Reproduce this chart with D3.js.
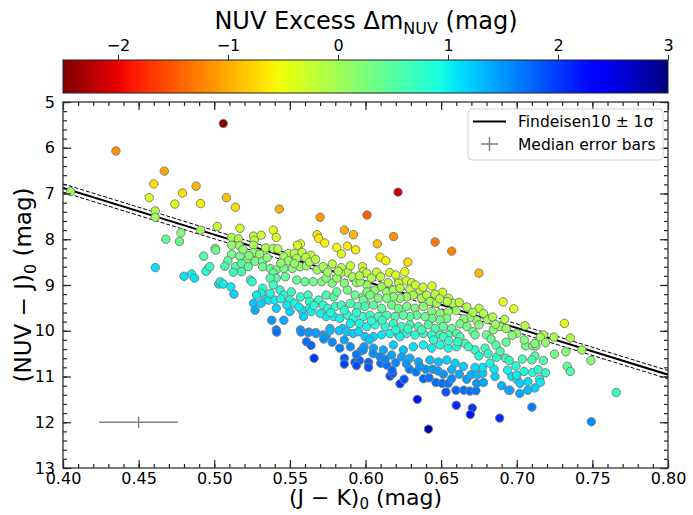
<!DOCTYPE html>
<html>
<head>
<meta charset="utf-8">
<script src="https://cdn.jsdelivr.net/npm/d3@7"></script>
<style>
body { margin: 0; background: #fff; }
text { font-family: "DejaVu Sans", sans-serif; fill: #000; }
</style>
</head>
<body>
<div id="chart"></div>
<script>
// (J-K)0, (NUV-J)0 pairs
var stars = [
  [0.435,6.07],[0.467,6.51],[0.460,6.79],[0.479,6.99],[0.488,6.84],[0.457,7.09],[0.474,7.23],[0.491,7.22],[0.405,6.96],
  [0.461,7.38],[0.461,7.52],[0.502,7.72],[0.491,7.80],[0.506,5.47],[0.508,7.09],[0.514,7.30],[0.543,7.34],[0.570,7.52],
  [0.601,7.47],[0.517,7.76],[0.539,7.80],[0.586,7.80],[0.6215,6.97],[0.478,7.86],[0.468,8.00],[0.477,8.05],[0.5005,8.20],
  [0.501,8.24],[0.493,8.37],[0.461,8.62],[0.496,8.64],[0.4945,8.70],[0.480,8.81],[0.485,8.76],[0.487,8.85],[0.503,8.98],
  [0.568,7.90],[0.592,7.90],[0.541,7.96],[0.526,7.93],[0.531,7.91],[0.5115,7.96],[0.516,7.99],[0.5265,8.02],[0.569,7.98],
  [0.573,8.08],[0.581,8.18],[0.588,8.15],[0.5935,8.23],[0.584,8.32],[0.557,8.10],[0.555,8.13],[0.5115,8.13],[0.5166,8.14],
  [0.526,8.13],[0.534,8.19],[0.539,8.20],[0.542,8.21],[0.549,8.31],[0.553,8.31],[0.558,8.29],[0.564,8.35],[0.526,8.29],
  [0.530,8.33],[0.5115,8.33],[0.517,8.37],[0.509,8.47],[0.522,8.45],[0.527,8.48],[0.532,8.48],[0.546,8.38],[0.549,8.47],
  [0.5545,8.42],[0.5605,8.40],[0.5516,8.64],[0.5567,8.60],[0.561,8.58],[0.568,8.67],[0.572,8.60],[0.578,8.54],[0.584,8.62],
  [0.588,8.73],[0.5836,8.74],[0.5915,8.82],[0.598,8.60],[0.5985,8.71],[0.594,8.95],[0.601,9.00],[0.507,8.59],[0.514,8.60],
  [0.518,8.53],[0.5225,8.60],[0.5126,8.72],[0.518,8.71],[0.532,8.60],[0.537,8.64],[0.541,8.67],[0.546,8.64],[0.539,8.74],
  [0.541,8.85],[0.537,8.85],[0.547,8.82],[0.5545,8.89],[0.560,8.93],[0.5655,8.93],[0.571,8.93],[0.574,8.85],[0.578,8.96],
  [0.581,8.85],[0.586,8.96],[0.497,8.60],[0.504,8.93],[0.506,8.98],[0.511,9.04],[0.513,9.20],[0.524,8.89],[0.525,8.93],
  [0.532,9.07],[0.531,9.18],[0.534,9.31],[0.536,9.33],[0.537,9.18],[0.5435,9.11],[0.539,9.00],[0.546,9.22],[0.551,9.15],
  [0.550,9.33],[0.557,9.26],[0.562,9.22],[0.563,9.36],[0.569,9.33],[0.574,9.22],[0.579,9.26],[0.581,9.15],[0.588,9.11],
  [0.593,9.22],[0.5985,9.26],[0.601,9.15],[0.553,9.40],[0.558,9.55],[0.563,9.51],[0.572,9.44],[0.575,9.51],[0.580,9.47],
  [0.584,9.44],[0.590,9.40],[0.595,9.47],[0.600,9.40],[0.574,9.69],[0.579,9.69],[0.583,9.73],[0.588,9.66],[0.592,9.73],
  [0.5985,9.69],[0.590,9.84],[0.596,9.84],[0.6008,9.91],[0.585,9.95],[0.5765,9.95],[0.572,10.09],[0.567,10.04],[0.562,10.04],
  [0.557,9.98],[0.538,9.77],[0.546,9.77],[0.541,9.98],[0.526,9.40],[0.531,9.40],[0.527,9.55],[0.541,9.51],[0.550,9.58],
  [0.540,9.33],[0.548,9.44],[0.564,9.58],[0.570,9.62],[0.559,9.69],
  [0.6186,7.94],[0.6078,8.10],[0.646,8.06],[0.657,8.26],[0.6096,8.39],[0.6134,8.47],[0.628,8.50],[0.626,8.71],[0.616,8.73],
  [0.6074,8.72],[0.675,8.74],[0.6008,8.74],[0.622,8.89],[0.627,8.91],[0.6305,8.95],[0.622,8.96],[0.644,9.02],[0.651,9.16],
  [0.655,9.29],[0.658,9.40],[0.654,9.36],[0.691,9.37],[0.675,9.51],[0.660,9.56],[0.692,9.75],[0.6805,9.75],[0.6735,9.77],
  [0.669,9.71],[0.665,9.74],[0.6625,9.85],[0.667,9.91],[0.675,9.87],[0.671,10.02],[0.6724,10.09],[0.6845,9.98],[0.689,9.91],
  [0.680,10.09],[0.700,10.06],[0.5964,8.93],[0.6063,9.11],[0.6107,9.04],[0.614,9.15],[0.6184,9.11],[0.6228,9.07],[0.6294,9.09],
  [0.636,9.11],[0.6316,9.22],[0.6371,9.29],[0.6404,9.22],[0.6426,9.36],[0.647,9.40],[0.6272,9.26],[0.6228,9.29],[0.6184,9.26],
  [0.614,9.29],[0.6085,9.29],[0.603,9.22],[0.5985,9.33],[0.5997,9.47],[0.6052,9.44],[0.6107,9.51],[0.6173,9.44],[0.6217,9.51],
  [0.6272,9.47],[0.6327,9.51],[0.6382,9.47],[0.6438,9.58],[0.6493,9.62],[0.6547,9.58],[0.6537,9.73],[0.6493,9.77],[0.6438,9.73],
  [0.6393,9.69],[0.6339,9.66],[0.6294,9.69],[0.625,9.66],[0.6195,9.69],[0.614,9.66],[0.6085,9.69],[0.603,9.66],[0.6063,9.87],
  [0.6129,9.91],[0.6184,9.84],[0.6239,9.91],[0.6294,9.87],[0.635,9.91],[0.6415,9.87],[0.646,9.95],[0.6514,9.91],[0.657,9.95],
  [0.6603,10.06],[0.6547,10.09],[0.6493,10.09],[0.6438,10.09],[0.6382,10.06],[0.6327,10.09],[0.6272,10.06],[0.6217,10.09],
  [0.6162,10.06],[0.6107,10.09],[0.6052,10.13],[0.5997,10.13],
  [0.698,9.52],[0.7055,9.89],[0.7315,9.84],[0.7176,10.09],[0.7156,10.14],[0.7246,10.14],[0.7354,10.16],[0.706,10.33],
  [0.7105,10.33],[0.7127,10.33],[0.712,10.28],[0.719,10.26],[0.743,10.42],[0.7324,10.46],[0.725,10.51],[0.749,10.65],
  [0.712,10.55],[0.710,10.64],[0.7176,10.65],[0.7037,10.62],[0.6995,10.77],[0.7334,10.78],[0.7354,10.89],[0.7048,10.89],
  [0.7105,10.91],[0.7142,10.85],[0.719,10.92],[0.6967,11.00],[0.700,11.06],[0.7022,11.15],[0.7074,11.11],[0.715,11.06],
  [0.7156,11.13],[0.712,11.25],[0.7072,11.30],[0.702,11.37],[0.6955,11.30],[0.7658,11.35],[0.710,11.67],[0.7493,11.99],
  [0.5413,10.03],[0.5574,10.03],[0.5626,10.03],[0.5673,10.06],[0.574,10.11],[0.5724,10.18],[0.561,10.24],[0.564,10.32],
  [0.586,10.20],[0.590,10.35],[0.599,10.35],[0.597,10.44],[0.566,10.60],[0.586,10.60],[0.586,10.73],[0.593,10.69],
  [0.596,10.65],[0.594,10.76],[0.602,10.69],[0.602,10.80],[0.6025,10.20],[0.5765,10.00],[0.5825,10.00],[0.5876,10.02],
  [0.5919,10.06],[0.5953,10.02],
  [0.6343,11.50],[0.6416,12.15],[0.660,11.63],[0.6706,11.69],[0.6693,11.83],[0.6887,11.91],[0.6228,11.16],[0.6255,11.06],
  [0.6532,11.34],[0.6598,11.30],[0.665,11.30],[0.669,11.32],[0.673,11.31],[0.6466,11.13],[0.6506,11.15],[0.6547,11.15],
  [0.6735,11.15],[0.678,11.13],[0.690,11.20],[0.6947,11.30],[0.6162,10.99],[0.618,10.93],[0.6175,10.86],[0.6101,10.71],
  [0.614,10.75],[0.629,10.84],[0.6334,10.90],[0.6383,11.05],[0.642,11.03],[0.6398,10.84],[0.6444,10.84],[0.6515,10.95],
  [0.6669,11.06],[0.6698,10.96],[0.674,10.96],[0.6775,10.93],[0.6856,11.00],[0.685,10.84],[0.694,10.86],[0.700,10.97],
  [0.6927,10.60],[0.6867,10.58],[0.6773,10.80],[0.6724,10.80],[0.5985,10.42],[0.6052,10.38],[0.6118,10.42],[0.6184,10.31],
  [0.625,10.42],[0.6316,10.35],[0.6382,10.31],[0.6438,10.38],[0.6493,10.31],[0.6547,10.38],[0.6603,10.35],[0.6658,10.28],
  [0.6724,10.42],[0.679,10.38],[0.6863,10.31],[0.6096,10.57],[0.6173,10.53],[0.6239,10.57],[0.6294,10.60],[0.635,10.68],
  [0.6426,10.64],[0.6482,10.68],[0.6537,10.64],[0.6592,10.71],[0.6647,10.78],[0.6823,10.71],[0.6228,10.13],[0.6514,10.13],
  [0.6625,10.13],
  [0.519,8.22],[0.523,8.36],[0.535,8.40],[0.544,8.52],[0.553,8.53],[0.563,8.50],[0.567,8.44],[0.575,8.72],[0.582,8.70],
  [0.590,8.58],[0.596,8.80],[0.604,8.85],[0.610,8.82],[0.615,8.95],[0.620,8.78],[0.633,9.00],[0.638,9.05],[0.646,9.20],
  [0.649,9.30],[0.662,9.38],[0.667,9.48],[0.671,9.60],[0.678,9.62],[0.684,9.70],[0.686,9.86],[0.693,9.95],[0.697,10.10],
  [0.705,10.20],[0.693,10.25],[0.683,10.18],[0.528,9.22],[0.544,9.30],[0.556,9.48],[0.566,9.45],[0.577,9.60],[0.586,9.55],
  [0.594,9.60],[0.604,9.78],[0.611,9.77],[0.620,9.98],[0.628,9.96],[0.637,9.98],[0.645,10.20],[0.655,10.22],[0.661,10.24],
  [0.668,10.35],[0.675,10.55],[0.681,10.50],[0.689,10.45],[0.695,10.65],[0.578,10.25],[0.583,10.38],[0.594,10.52],
  [0.605,10.50],[0.613,10.62],[0.620,10.70],[0.627,10.72],[0.636,10.78],[0.648,10.88],[0.657,10.85],[0.662,10.95],[0.657,11.05]
];

var xTicks = [0.40, 0.45, 0.50, 0.55, 0.60, 0.65, 0.70, 0.75, 0.80];
var yTicks = [5, 6, 7, 8, 9, 10, 11, 12, 13];
var cbarTicks = [-2, -1, 0, 1, 2, 3];

// Findeisen10 relation (NUV-J) = a + b (J-K), with 1 sigma scatter
var fitA = 2.8;
var fitB = 10.2;
var fitSigma = 0.09;

// median error bar, drawn at (0.45, 12)
var errAt = [0.45, 12.0];
var errSize = [0.026, 0.12];

var svgWidth = 693;
var svgHeight = 515;

var margin = {
    top: 102,
    right: 25,
    bottom: 47,
    left: 63
};

var width = svgWidth - margin.left - margin.right;
var height = svgHeight - margin.top - margin.bottom;

var svg = d3.select("#chart")
    .append("svg")
    .attr("width", svgWidth)
    .attr("height", svgHeight);

// matplotlib "jet" colormap
var jetR = d3.scaleLinear().domain([0, 0.35, 0.66, 0.89, 1]).range([0, 0, 1, 1, 0.5]).clamp(true);
var jetG = d3.scaleLinear().domain([0, 0.125, 0.375, 0.64, 0.91, 1]).range([0, 0, 1, 1, 0, 0]).clamp(true);
var jetB = d3.scaleLinear().domain([0, 0.11, 0.34, 0.65, 1]).range([0.5, 1, 1, 0, 0]).clamp(true);
function jet(t) {
    return d3.rgb(jetR(t) * 255, jetG(t) * 255, jetB(t) * 255).formatHex();
}
// reversed: -2.5 dark red, 3 dark blue
var tScale = d3.scaleLinear().domain([-2.5, 3]).range([1, 0]).clamp(true);
function colorOf(v) { return jet(tScale(v)); }

function fitLine(x) { return fitA + fitB * x; }

var xScale = d3.scaleLinear().domain([0.40, 0.80]).range([0, width]);
var yScale = d3.scaleLinear().domain([5, 13]).range([0, height]);

// ---- colorbar ----
var cbTop = 60, cbHeight = 33;
var cbScale = d3.scaleLinear().domain([-2.5, 3]).range([margin.left, margin.left + width]);

var grad = svg.append("defs").append("linearGradient")
    .attr("id", "jetgrad")
    .attr("x1", "0%").attr("x2", "100%").attr("y1", "0%").attr("y2", "0%");
d3.range(0, 101).forEach(function (i) {
    var v = -2.5 + 5.5 * i / 100;
    grad.append("stop")
        .attr("offset", i + "%")
        .attr("stop-color", colorOf(v));
});

svg.append("rect")
    .attr("x", margin.left)
    .attr("y", cbTop)
    .attr("width", width)
    .attr("height", cbHeight)
    .attr("fill", "url(#jetgrad)")
    .attr("stroke", "#222")
    .attr("stroke-width", 1);

var cbAxis = svg.append("g")
    .attr("transform", `translate(0, ${cbTop})`)
    .call(d3.axisTop(cbScale)
        .tickValues(cbarTicks)
        .tickSizeInner(5)
        .tickSizeOuter(0)
        .tickPadding(4)
        .tickFormat(d => d < 0 ? "\u2212" + Math.abs(d) : d));
cbAxis.select(".domain").remove();
cbAxis.selectAll("text").attr("font-size", 16).attr("font-family", "DejaVu Sans");
cbAxis.selectAll("line").attr("stroke", "#222");

var title = svg.append("text")
    .attr("x", 366)
    .attr("y", 29)
    .attr("text-anchor", "middle")
    .attr("font-size", 24);
title.append("tspan").text("NUV Excess \u0394m");
title.append("tspan").attr("font-size", 16).attr("dy", 5).text("NUV");
title.append("tspan").attr("dy", -5).text(" (mag)");

// ---- scatter panel ----
var chartGroup = svg.append("g")
    .attr("transform", `translate(${margin.left}, ${margin.top})`);

chartGroup.append("defs").append("clipPath")
    .attr("id", "clip")
    .append("rect")
    .attr("width", width)
    .attr("height", height);

// Findeisen10 line and +/- 1 sigma
var lineGen = d3.line()
    .x(d => xScale(d))
    .y(d => yScale(fitLine(d)));
var lineGenOff = function (off) {
    return d3.line()
        .x(d => xScale(d))
        .y(d => yScale(fitLine(d) + off));
};
var xEnds = xScale.domain();

var fitGroup = chartGroup.append("g").attr("clip-path", "url(#clip)");
fitGroup.append("path")
    .datum(xEnds)
    .attr("d", lineGenOff(-fitSigma))
    .attr("fill", "none")
    .attr("stroke", "#000")
    .attr("stroke-width", 1)
    .attr("stroke-dasharray", "4,2");
fitGroup.append("path")
    .datum(xEnds)
    .attr("d", lineGenOff(fitSigma))
    .attr("fill", "none")
    .attr("stroke", "#000")
    .attr("stroke-width", 1)
    .attr("stroke-dasharray", "4,2");
fitGroup.append("path")
    .datum(xEnds)
    .attr("d", lineGen)
    .attr("fill", "none")
    .attr("stroke", "#000")
    .attr("stroke-width", 2);

// stars, coloured by their offset from the Findeisen10 relation
chartGroup.append("g")
    .selectAll("circle")
    .data(stars)
    .enter()
    .append("circle")
    .attr("cx", d => xScale(d[0]))
    .attr("cy", d => yScale(d[1]))
    .attr("r", 4.2)
    .attr("fill", d => colorOf(d[1] - fitLine(d[0])))
    .attr("stroke", "#7f7f7f")
    .attr("stroke-width", 1);

// median error bars
var errGroup = chartGroup.append("g")
    .attr("stroke", "#808080")
    .attr("stroke-width", 1.5);
errGroup.append("line")
    .attr("x1", xScale(errAt[0] - errSize[0]))
    .attr("x2", xScale(errAt[0] + errSize[0]))
    .attr("y1", yScale(errAt[1]))
    .attr("y2", yScale(errAt[1]));
errGroup.append("line")
    .attr("x1", xScale(errAt[0]))
    .attr("x2", xScale(errAt[0]))
    .attr("y1", yScale(errAt[1] - errSize[1]))
    .attr("y2", yScale(errAt[1] + errSize[1]));

// ---- axes, ticks pointing inward on all four sides ----
var xMinor = d3.range(40, 81).map(d => d / 100);
var yMinor = d3.range(25, 66).map(d => d / 5);

function styleAxis(g) {
    g.select(".domain").remove();
    g.selectAll("line").attr("stroke", "#222").attr("stroke-width", 1.2);
    g.selectAll("text").attr("font-size", 16).attr("font-family", "DejaVu Sans");
}

var bottomAxis = chartGroup.append("g")
    .attr("transform", `translate(0, ${height})`)
    .call(d3.axisBottom(xScale).tickValues(xTicks).tickSize(-8).tickPadding(5).tickFormat(d3.format(".2f")));
styleAxis(bottomAxis);
chartGroup.append("g")
    .attr("transform", `translate(0, ${height})`)
    .call(d3.axisBottom(xScale).tickValues(xMinor).tickSize(-4).tickFormat(""))
    .call(styleAxis);
chartGroup.append("g")
    .call(d3.axisTop(xScale).tickValues(xTicks).tickSize(-8).tickFormat(""))
    .call(styleAxis);
chartGroup.append("g")
    .call(d3.axisTop(xScale).tickValues(xMinor).tickSize(-4).tickFormat(""))
    .call(styleAxis);

var leftAxis = chartGroup.append("g")
    .call(d3.axisLeft(yScale).tickValues(yTicks).tickSize(-8).tickPadding(8));
styleAxis(leftAxis);
chartGroup.append("g")
    .call(d3.axisLeft(yScale).tickValues(yMinor).tickSize(-4).tickFormat(""))
    .call(styleAxis);
chartGroup.append("g")
    .attr("transform", `translate(${width}, 0)`)
    .call(d3.axisRight(yScale).tickValues(yTicks).tickSize(-8).tickFormat(""))
    .call(styleAxis);
chartGroup.append("g")
    .attr("transform", `translate(${width}, 0)`)
    .call(d3.axisRight(yScale).tickValues(yMinor).tickSize(-4).tickFormat(""))
    .call(styleAxis);

chartGroup.append("rect")
    .attr("width", width)
    .attr("height", height)
    .attr("fill", "none")
    .attr("stroke", "#333")
    .attr("stroke-width", 1.3);

// ---- legend ----
var legend = chartGroup.append("g")
    .attr("transform", `translate(${405}, ${7})`);
legend.append("rect")
    .attr("width", 195)
    .attr("height", 51)
    .attr("rx", 4)
    .attr("fill", "#fff")
    .attr("fill-opacity", 0.8)
    .attr("stroke", "#d0d0d0");
legend.append("line")
    .attr("x1", 5).attr("x2", 38)
    .attr("y1", 12.5).attr("y2", 12.5)
    .attr("stroke", "#000")
    .attr("stroke-width", 2);
legend.append("line")
    .attr("x1", 13).attr("x2", 30)
    .attr("y1", 35).attr("y2", 35)
    .attr("stroke", "#808080").attr("stroke-width", 1.5);
legend.append("line")
    .attr("x1", 21.5).attr("x2", 21.5)
    .attr("y1", 28).attr("y2", 42)
    .attr("stroke", "#808080").attr("stroke-width", 1.5);
legend.append("text")
    .attr("x", 50).attr("y", 18)
    .attr("font-size", 15.5)
    .text("Findeisen10 \u00b1 1\u03c3");
legend.append("text")
    .attr("x", 50).attr("y", 41)
    .attr("font-size", 15.5)
    .text("Median error bars");

// ---- axis labels ----
var xLabel = svg.append("text")
    .attr("x", margin.left + width / 2)
    .attr("y", 505)
    .attr("text-anchor", "middle")
    .attr("font-size", 22);
xLabel.append("tspan").text("(J \u2212 K)");
xLabel.append("tspan").attr("font-size", 15).attr("dy", 4).text("0");
xLabel.append("tspan").attr("dy", -4).text(" (mag)");

var yLabel = svg.append("text")
    .attr("transform", `translate(31, ${margin.top + height / 2}) rotate(-90)`)
    .attr("text-anchor", "middle")
    .attr("font-size", 23);
yLabel.append("tspan").text("(NUV \u2212 J)");
yLabel.append("tspan").attr("font-size", 16).attr("dy", 5).text("0");
yLabel.append("tspan").attr("dy", -5).text(" (mag)");
</script>
</body>
</html>
